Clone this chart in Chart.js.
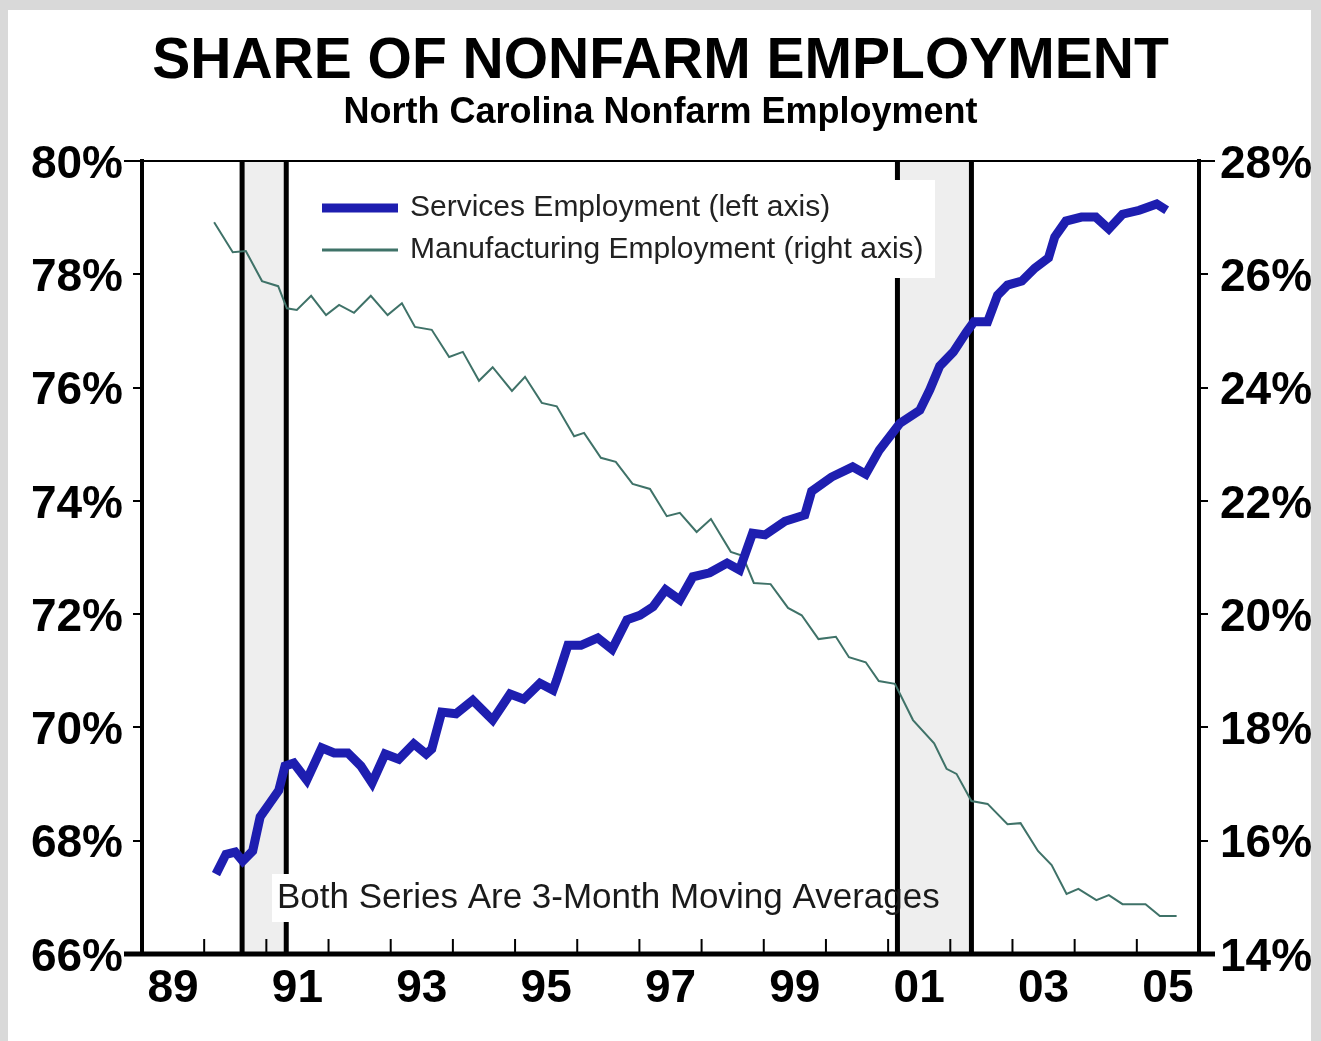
<!DOCTYPE html>
<html>
<head>
<meta charset="utf-8">
<title>Share of Nonfarm Employment</title>
<script src="https://cdn.jsdelivr.net/npm/chart.js@4.4.1/dist/chart.umd.min.js"></script>
<style>
  html, body { margin: 0; padding: 0; background: #d9d9d9; }
  #wrap { position: absolute; left: 0; top: 0; width: 1321px; height: 1041px; }
</style>
</head>
<body>
<div id="wrap"><canvas id="grafikPangsa" width="1321" height="1041"></canvas></div>
<script>
const FONT = "'Liberation Sans', Arial, sans-serif";

// services share (left axis, %)
const tahunJasa = [1990.19, 1990.35, 1990.50, 1990.62, 1990.78, 1990.90, 1991.06, 1991.20, 1991.30, 1991.44, 1991.65, 1991.89,
    1992.09, 1992.31, 1992.52, 1992.70, 1992.91, 1993.13, 1993.37, 1993.57, 1993.66, 1993.82, 1994.05, 1994.32, 1994.64, 1994.92,
    1995.14, 1995.40, 1995.61, 1995.67, 1995.85, 1996.06, 1996.33, 1996.56, 1996.80, 1997.01, 1997.22, 1997.42, 1997.65, 1997.86,
    1998.13, 1998.41, 1998.61, 1998.82, 1999.02, 1999.34, 1999.66, 1999.77, 2000.09, 2000.43, 2000.64, 2000.86,
    2001.19, 2001.51, 2001.67, 2001.83, 2002.05, 2002.26, 2002.38, 2002.60, 2002.76, 2002.92,
    2003.15, 2003.36, 2003.58, 2003.68, 2003.86, 2004.11, 2004.34, 2004.55, 2004.77, 2005.04, 2005.32, 2005.48];
const nilaiJasa = [67.41, 67.76, 67.80, 67.64, 67.82, 68.42, 68.67, 68.89, 69.32, 69.37, 69.07, 69.64,
    69.55, 69.55, 69.32, 69.02, 69.53, 69.44, 69.71, 69.53, 69.62, 70.27, 70.24, 70.48, 70.13, 70.59,
    70.50, 70.78, 70.66, 70.84, 71.45, 71.45, 71.58, 71.38, 71.90, 71.98, 72.13, 72.43, 72.25, 72.66,
    72.73, 72.90, 72.78, 73.43, 73.40, 73.64, 73.75, 74.17, 74.42, 74.60, 74.47, 74.90,
    75.37, 75.60, 75.96, 76.38, 76.63, 76.98, 77.16, 77.16, 77.63, 77.81,
    77.88, 78.11, 78.29, 78.66, 78.94, 79.01, 79.01, 78.80, 79.06, 79.13, 79.24, 79.13];

// manufacturing share (right axis, %)
const tahunManuf = [1990.16, 1990.46, 1990.67, 1990.93, 1991.19, 1991.33, 1991.49, 1991.72, 1991.96, 1992.17, 1992.41, 1992.68,
    1992.95, 1993.18, 1993.39, 1993.66, 1993.94, 1994.16, 1994.42, 1994.64, 1994.95, 1995.16, 1995.43, 1995.67, 1995.95,
    1996.11, 1996.38, 1996.62, 1996.89, 1997.17, 1997.44, 1997.65, 1997.92, 1998.15, 1998.47, 1998.66, 1998.84,
    1999.11, 1999.39, 1999.61, 1999.88, 2000.16, 2000.37, 2000.64, 2000.85, 2001.11, 2001.40, 2001.74, 2001.94,
    2002.10, 2002.34, 2002.60, 2002.92, 2003.13, 2003.41, 2003.63, 2003.87, 2004.06, 2004.35, 2004.55, 2004.77,
    2005.14, 2005.37, 2005.64];
const nilaiManuf = [26.92, 26.39, 26.41, 25.88, 25.79, 25.40, 25.37, 25.62, 25.28, 25.46, 25.32, 25.62,
    25.28, 25.49, 25.07, 25.02, 24.54, 24.63, 24.12, 24.36, 23.94, 24.19, 23.73, 23.67, 23.14,
    23.20, 22.76, 22.69, 22.30, 22.21, 21.73, 21.79, 21.45, 21.68, 21.10, 21.03, 20.55,
    20.53, 20.11, 19.98, 19.56, 19.60, 19.24, 19.15, 18.82, 18.77, 18.13, 17.72, 17.27,
    17.18, 16.70, 16.65, 16.29, 16.31, 15.82, 15.57, 15.06, 15.15, 14.95, 15.04, 14.88,
    14.88, 14.67, 14.67];

// axis ticks and labels
const tickKiri = [66, 68, 70, 72, 74, 76, 78, 80];
const tickKanan = [14, 16, 18, 20, 22, 24, 26, 28];
const tahunLabel = [1989, 1991, 1993, 1995, 1997, 1999, 2001, 2003, 2005];
const labelTahun = ['89', '91', '93', '95', '97', '99', '01', '03', '05'];

// recessions (shaded, bounded by black lines)
const resesi = [[1990.61, 1991.32], [2001.15, 2002.34]];

const warnaJasa = '#1e1eb0';
const warnaManuf = '#3f7268';

const pluginLatar = {
    id: 'latar',
    beforeDraw(chart) {
        const ctx = chart.ctx;
        ctx.save();
        ctx.fillStyle = '#d9d9d9';
        ctx.fillRect(0, 0, chart.width, chart.height);
        ctx.fillStyle = '#ffffff';
        ctx.fillRect(8, 10, chart.width - 18, chart.height - 10);
        ctx.restore();
    },
    beforeDatasetsDraw(chart) {
        const { ctx, chartArea: { top, bottom }, scales: { x } } = chart;
        ctx.save();
        resesi.forEach(([a, b]) => {
            const xa = x.getPixelForValue(a), xb = x.getPixelForValue(b);
            ctx.fillStyle = '#eeeeee';
            ctx.fillRect(xa, top, xb - xa, bottom - top);
            ctx.strokeStyle = '#000';
            ctx.lineWidth = 5;
            [xa, xb].forEach(px => {
                ctx.beginPath();
                ctx.moveTo(px, top);
                ctx.lineTo(px, bottom);
                ctx.stroke();
            });
        });
        ctx.restore();
    },
    afterDatasetsDraw(chart) {
        const { ctx, chartArea: { top, bottom, left, right }, scales: { x } } = chart;
        ctx.save();
        ctx.strokeStyle = '#000';
        // top frame line
        ctx.lineWidth = 2;
        ctx.beginPath();
        ctx.moveTo(left - 18, top);
        ctx.lineTo(right + 16, top);
        ctx.stroke();
        // x axis + inward year ticks
        ctx.lineWidth = 5;
        ctx.beginPath();
        ctx.moveTo(left - 18, bottom);
        ctx.lineTo(right + 16, bottom);
        ctx.stroke();
        ctx.lineWidth = 2;
        for (let t = 1990; t < 2006; t++) {
            const px = x.getPixelForValue(t);
            ctx.beginPath();
            ctx.moveTo(px, bottom);
            ctx.lineTo(px, bottom - 15);
            ctx.stroke();
        }

        // note
        ctx.fillStyle = '#fff';
        ctx.fillRect(272, 874, 621, 48);
        ctx.fillStyle = '#1a1a1a';
        ctx.font = '35px ' + FONT;
        ctx.textBaseline = 'middle';
        ctx.textAlign = 'left';
        ctx.fillText('Both Series Are 3-Month Moving Averages', 277, 898);

        // legend
        ctx.fillStyle = '#fff';
        ctx.fillRect(305, 180, 630, 98);
        const ds = chart.data.datasets;
        [[ds[0], 208, 9], [ds[1], 250, 3]].forEach(([d, yy, lw]) => {
            ctx.strokeStyle = d.borderColor;
            ctx.lineWidth = lw;
            ctx.beginPath();
            ctx.moveTo(322, yy);
            ctx.lineTo(398, yy);
            ctx.stroke();
            ctx.fillStyle = '#222';
            ctx.font = '30px ' + FONT;
            ctx.fillText(d.label, 410, yy);
        });
        ctx.restore();
    }
};

const ctx = document.getElementById('grafikPangsa').getContext('2d');

const grafikPangsa = new Chart(ctx, {
    type: 'line',
    data: {
        datasets: [{
            label: 'Services Employment (left axis)',
            data: tahunJasa.map((t, i) => ({ x: t, y: nilaiJasa[i] })),
            borderColor: warnaJasa,
            borderWidth: 9,
            pointRadius: 0,
            tension: 0,
            yAxisID: 'y'
        }, {
            label: 'Manufacturing Employment (right axis)',
            data: tahunManuf.map((t, i) => ({ x: t, y: nilaiManuf[i] })),
            borderColor: warnaManuf,
            borderWidth: 2,
            pointRadius: 0,
            tension: 0,
            yAxisID: 'y2'
        }]
    },
    options: {
        responsive: false,
        animation: false,
        layout: { padding: 0 },
        scales: {
            x: {
                type: 'linear',
                min: 1989,
                max: 2006,
                afterBuildTicks: s => { s.ticks = tahunLabel.map(t => ({ value: t + 0.5 })); },
                afterFit: s => { s.height = 87; },
                grid: { display: false, drawTicks: false },
                border: { display: false },
                ticks: {
                    autoSkip: false,
                    maxRotation: 0,
                    padding: 8,
                    color: '#000',
                    font: { family: FONT, size: 46, weight: 'bold' },
                    callback: (v, i) => labelTahun[i]
                }
            },
            y: {
                position: 'left',
                min: 66,
                max: 80,
                afterBuildTicks: s => { s.ticks = tickKiri.map(v => ({ value: v })); },
                afterFit: s => { s.width = 142; },
                grid: { drawOnChartArea: false, drawTicks: true, tickLength: 9, color: '#000', lineWidth: 2 },
                border: { display: true, color: '#000', width: 4 },
                ticks: {
                    padding: 10,
                    labelOffset: 4,
                    color: '#000',
                    font: { family: FONT, size: 46, weight: 'bold' },
                    callback: v => v + '%'
                }
            },
            y2: {
                position: 'right',
                min: 14,
                max: 28,
                afterBuildTicks: s => { s.ticks = tickKanan.map(v => ({ value: v })); },
                afterFit: s => { s.width = 122; },
                grid: { drawOnChartArea: false, drawTicks: true, tickLength: 9, color: '#000', lineWidth: 2 },
                border: { display: true, color: '#000', width: 4 },
                ticks: {
                    padding: 12,
                    labelOffset: 4,
                    color: '#000',
                    font: { family: FONT, size: 46, weight: 'bold' },
                    callback: v => v + '%'
                }
            }
        },
        plugins: {
            legend: { display: false },
            tooltip: { enabled: false },
            title: {
                display: true,
                text: 'SHARE OF NONFARM EMPLOYMENT',
                color: '#000',
                font: { family: FONT, size: 57, weight: 'bold', lineHeight: 1.0 },
                padding: { top: 34, bottom: 0 }
            },
            subtitle: {
                display: true,
                text: 'North Carolina Nonfarm Employment',
                color: '#000',
                font: { family: FONT, size: 36, weight: 'bold', lineHeight: 1.0 },
                padding: { top: 4, bottom: 30 }
            }
        }
    },
    plugins: [pluginLatar]
});
</script>
</body>
</html>
